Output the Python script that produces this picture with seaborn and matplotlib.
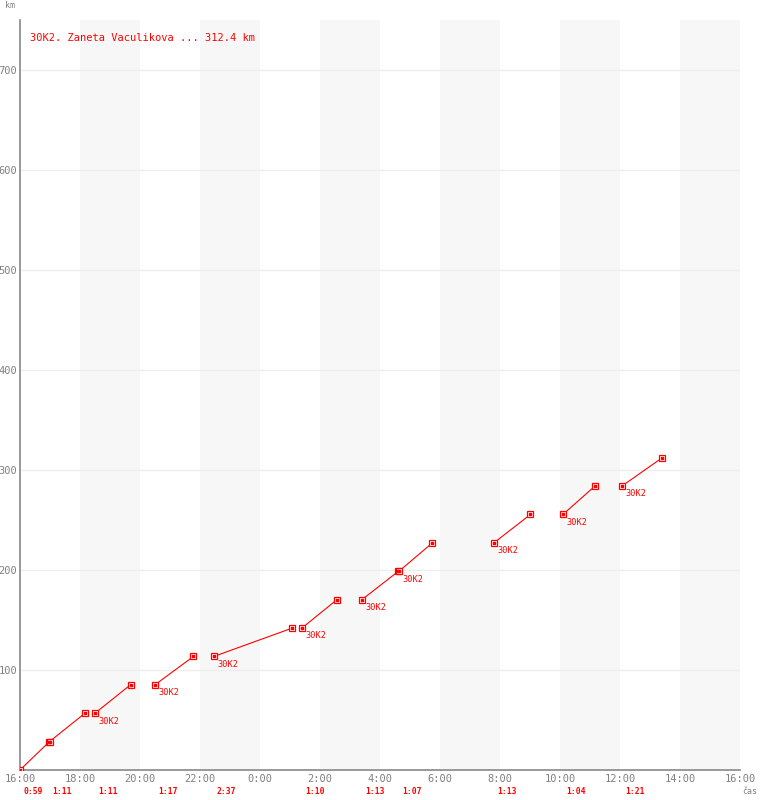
import pandas as pd
import matplotlib
matplotlib.use('Agg')
import matplotlib.pyplot as plt
import seaborn as sns

# lap data (start clock time, lap duration, cumulative km at start/end)
lap_start = ['16:00', '16:59', '18:30', '20:30', '22:28', '1:24', '3:24', '4:38', '7:48', '10:06', '12:04']
lap_duration = ['0:59', '1:11', '1:11', '1:17', '2:37', '1:10', '1:13', '1:07', '1:13', '1:04', '1:21']
km_start = [0.0, 28.4, 56.8, 85.2, 113.6, 142.0, 170.4, 198.8, 227.2, 255.6, 284.0]
km_end = [28.4, 56.8, 85.2, 113.6, 142.0, 170.4, 198.8, 227.2, 255.6, 284.0, 312.4]
lap_tag = ['', '', '30K2', '30K2', '30K2', '30K2', '30K2', '30K2', '30K2', '30K2', '30K2']
tick_labels = ['16:00', '18:00', '20:00', '22:00', '0:00', '2:00', '4:00', '6:00',
               '8:00', '10:00', '12:00', '14:00', '16:00']
y_ticks = [100, 200, 300, 400, 500, 600, 700]
title = '30K2. Zaneta Vaculikova ... 312.4 km'


def clock_to_h(s):
    h, m = s.split(':')
    h = int(h) + int(m) / 60
    return h - 16 if h >= 16 else h + 8


def dur_to_h(s):
    h, m = s.split(':')
    return int(h) + int(m) / 60


rows = []
for i in range(len(lap_start)):
    t0 = clock_to_h(lap_start[i])
    t1 = t0 + dur_to_h(lap_duration[i])
    rows.append({'lap': i, 't': t0, 'km': km_start[i]})
    rows.append({'lap': i, 't': t1, 'km': km_end[i]})
df = pd.DataFrame(rows)

sns.set_style('white')
plt.rcParams['font.family'] = ['DejaVu Sans Mono', 'DejaVu Sans']

fig = plt.figure(figsize=(7.6, 8), dpi=100)
ax = fig.add_axes([20 / 760, 30 / 800, 720 / 760, 750 / 800])

# alternating 2h bands
for k in range(1, 12, 2):
    ax.axvspan(2 * k, 2 * k + 2, color='#f7f7f7', lw=0, zorder=0)
for y in y_ticks:
    ax.axhline(y, color='#eeeeee', lw=1, zorder=1)

sns.lineplot(data=df, x='t', y='km', units='lap', estimator=None, color='red',
             lw=0.8, marker='s', markersize=4.5, markerfacecolor='white',
             markeredgecolor='red', markeredgewidth=0.9, ax=ax, zorder=3)
ax.scatter(df['t'], df['km'], s=0.8, color='red', zorder=4, marker='s')

for i in range(len(lap_start)):
    t0 = clock_to_h(lap_start[i])
    if lap_tag[i]:
        ax.annotate(lap_tag[i], (t0, km_start[i]), xytext=(3, -8), textcoords='offset pixels',
                    color='red', fontsize=6.2, ha='left', va='center')
    ax.annotate(lap_duration[i], (t0, 0), xycoords=('data', 'axes fraction'),
                xytext=(3, -22), textcoords='offset pixels', color='red',
                fontsize=5.8, fontweight='bold', ha='left', va='center', annotation_clip=False)

ax.set_xlim(0, 24)
ax.set_ylim(0, 750)
ax.set_xticks(range(0, 25, 2))
ax.set_xticklabels(tick_labels)
ax.set_yticks(y_ticks)
ax.tick_params(length=0, labelsize=7.5, colors='#808080')
ax.tick_params(axis='x', pad=3)
ax.tick_params(axis='y', pad=2)
ax.set_xlabel('')
ax.set_ylabel('')
for s in ['top', 'right']:
    ax.spines[s].set_visible(False)
for s in ['left', 'bottom']:
    ax.spines[s].set_color('#888888')
    ax.spines[s].set_linewidth(1.2)

ax.text(0.33, 732, title, color='red', fontsize=7.5, va='center', ha='left')
fig.text(5 / 760, 1 - 6 / 800, 'km', color='#808080', fontsize=6, va='center', ha='left')
fig.text(742 / 760, 1 - 791 / 800, 'čas', color='#808080', fontsize=6, va='center', ha='left')

fig.savefig('out.png', dpi=100)
